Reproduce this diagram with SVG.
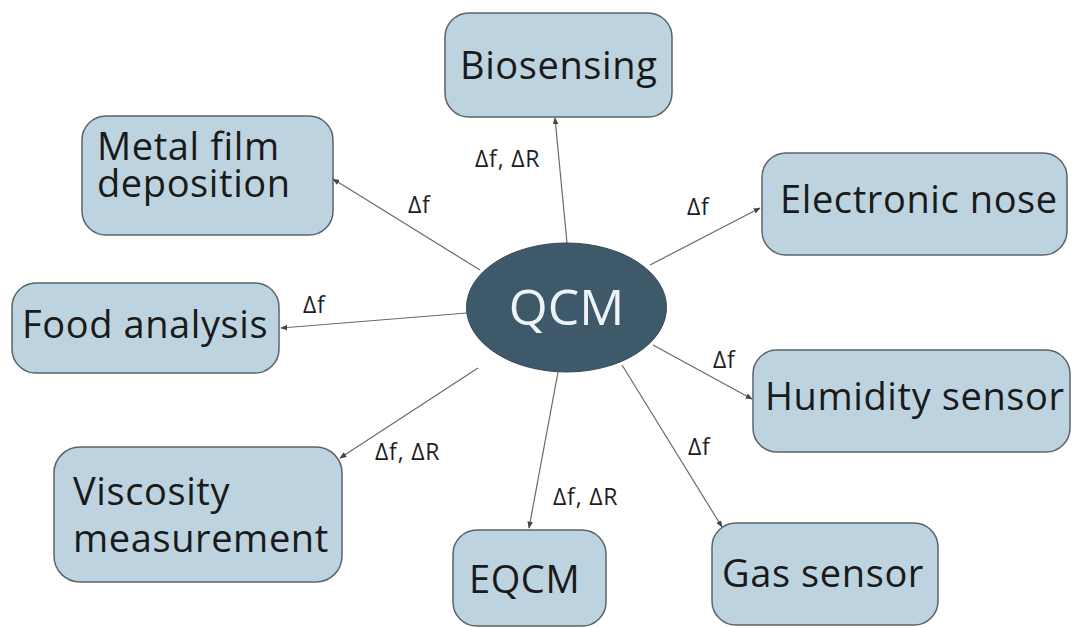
<svg xmlns="http://www.w3.org/2000/svg" width="1072" height="628" viewBox="0 0 1072 628">
  <defs>
    <style>
      .box { fill: #bdd4e0; stroke: #5a6468; stroke-width: 1.5; }
      .t { font-family: "Open Sans", "Noto Sans", "DejaVu Sans", sans-serif; font-size: 38px; letter-spacing: 0.6px; fill: #1a1a1a; }
      .lbl { font-family: "Open Sans", "Noto Sans", "DejaVu Sans", sans-serif; font-size: 23px; letter-spacing: 0.8px; fill: #1e1e1e; }
      .conn { stroke: #6a6a6a; stroke-width: 1.2; fill: none; marker-end: url(#arr); }
    </style>
    <marker id="arr" viewBox="0 0 10 10" refX="9" refY="5" markerWidth="7" markerHeight="7" markerUnits="userSpaceOnUse" orient="auto">
      <path d="M0,1 L10,5 L0,9 z" fill="#444"/>
    </marker>
  </defs>
  <rect width="1072" height="628" fill="#ffffff"/>

  <g id="connectors">
    <line class="conn" x1="567" y1="243" x2="555" y2="118"/>
    <line class="conn" x1="480" y1="270" x2="333" y2="179"/>
    <line class="conn" x1="467" y1="313" x2="281" y2="328"/>
    <line class="conn" x1="478" y1="368" x2="340" y2="458"/>
    <line class="conn" x1="558" y1="372" x2="529" y2="528"/>
    <line class="conn" x1="622" y1="365" x2="722" y2="527"/>
    <line class="conn" x1="653" y1="345" x2="752" y2="399"/>
    <line class="conn" x1="650" y1="265" x2="760" y2="208"/>
    <text class="lbl" x="475" y="167">Δf, ΔR</text>
    <text class="lbl" x="408" y="213">Δf</text>
    <text class="lbl" x="303" y="313">Δf</text>
    <text class="lbl" x="375" y="460">Δf, ΔR</text>
    <text class="lbl" x="553" y="505">Δf, ΔR</text>
    <text class="lbl" x="688" y="455">Δf</text>
    <text class="lbl" x="713" y="368">Δf</text>
    <text class="lbl" x="687" y="215">Δf</text>
  </g>

  <g id="qcm">
    <ellipse cx="566.5" cy="307.5" rx="100" ry="64.5" fill="#3e5a6a" stroke="#34495a" stroke-width="1"/>
    <text x="566.5" y="325" text-anchor="middle" font-family="'Open Sans', 'Noto Sans', sans-serif" font-size="50" fill="#eef3f6">QCM</text>
  </g>

  <g id="biosensing">
    <rect class="box" x="445" y="13" width="227" height="104" rx="24"/>
    <text class="t" x="460" y="79">Biosensing</text>
  </g>

  <g id="metal-film">
    <rect class="box" x="82" y="116" width="251" height="119" rx="24"/>
    <text class="t" x="97" y="160">Metal film</text>
    <text class="t" x="97" y="197">deposition</text>
  </g>

  <g id="food-analysis">
    <rect class="box" x="12" y="283" width="267" height="90" rx="24"/>
    <text class="t" x="22" y="338">Food analysis</text>
  </g>

  <g id="viscosity">
    <rect class="box" x="54" y="447" width="288" height="135" rx="26"/>
    <text class="t" x="73" y="505">Viscosity</text>
    <text class="t" x="73" y="552">measurement</text>
  </g>

  <g id="eqcm">
    <rect class="box" x="453" y="530" width="153" height="96" rx="24"/>
    <text class="t" x="469" y="593">EQCM</text>
  </g>

  <g id="gas-sensor">
    <rect class="box" x="712" y="523" width="226" height="102" rx="24"/>
    <text class="t" x="722" y="587">Gas sensor</text>
  </g>

  <g id="humidity-sensor">
    <rect class="box" x="753" y="350" width="317" height="102" rx="24"/>
    <text class="t" x="765" y="410">Humidity sensor</text>
  </g>

  <g id="electronic-nose">
    <rect class="box" x="762" y="153" width="305" height="102" rx="24"/>
    <text class="t" x="780" y="213">Electronic nose</text>
  </g>
</svg>
